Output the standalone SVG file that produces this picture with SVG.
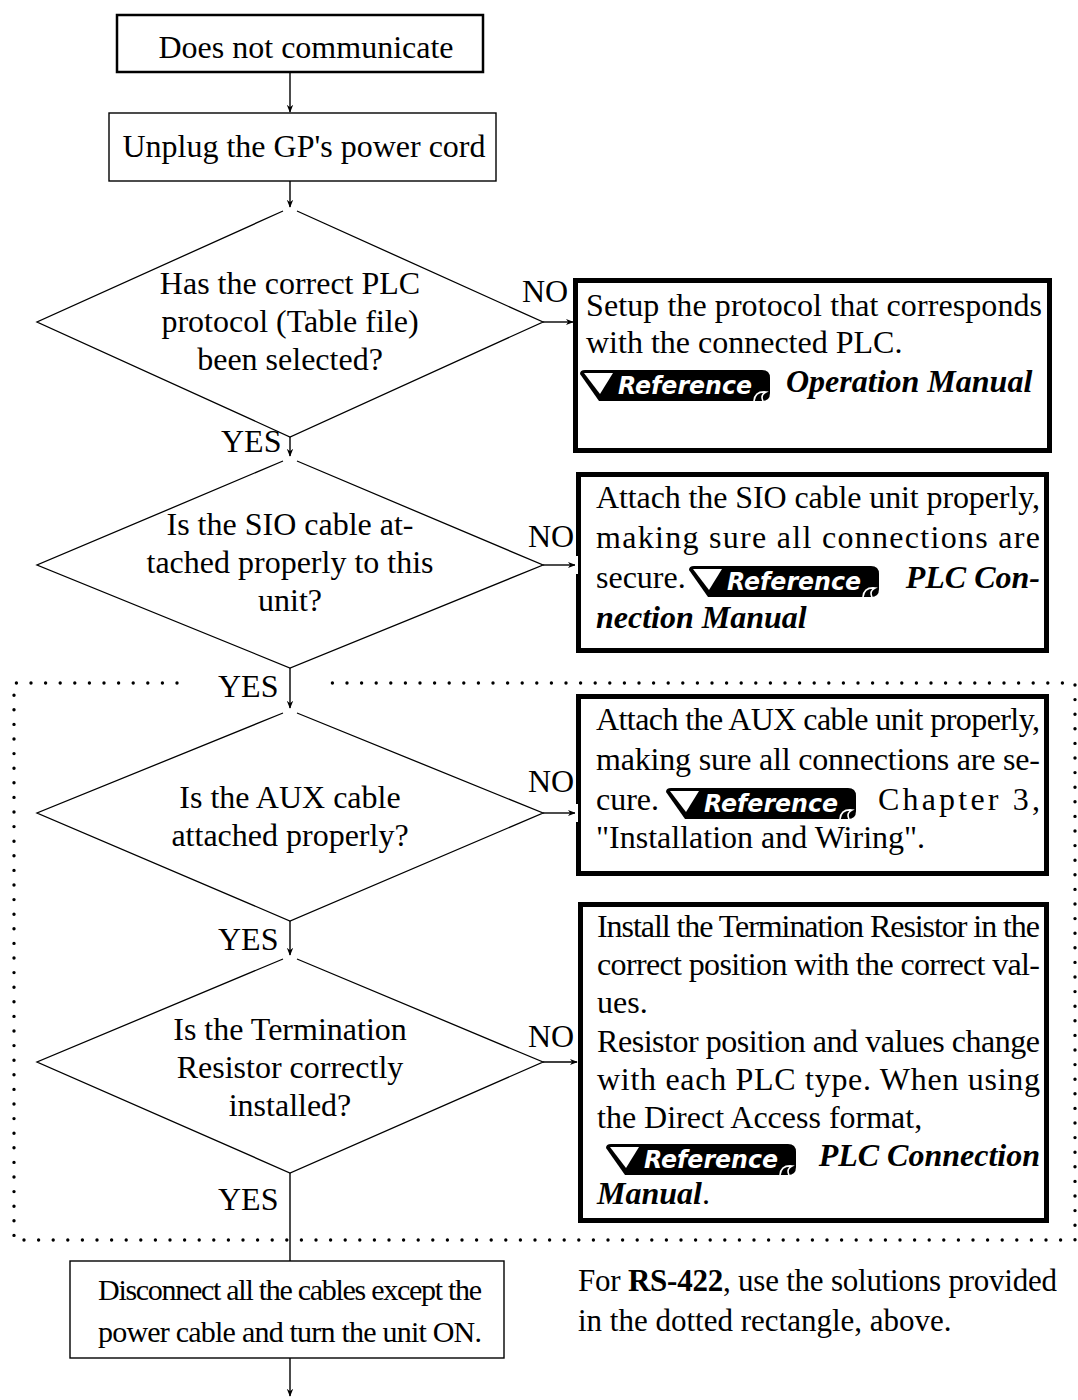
<svg xmlns="http://www.w3.org/2000/svg" xmlns:xlink="http://www.w3.org/1999/xlink" width="1078" height="1400" viewBox="0 0 1078 1400">
<style>
.t{font-family:"Liberation Serif","Times New Roman",serif;font-size:32px;fill:#000}
.c{text-anchor:middle}
.bi{font-weight:bold;font-style:italic}
.b{font-weight:bold}
.box{fill:#fff;stroke:#000}
.thin{stroke-width:1.4}
.thick{stroke-width:5}
.ln{fill:none;stroke:#000;stroke-width:1.4}
.dia{fill:none;stroke:#000;stroke-width:1.3}
.dots{fill:none;stroke:#000;stroke-width:3.4;stroke-linecap:round;stroke-dasharray:0 14.6}
.reft{font-family:"DejaVu Sans","Verdana",sans-serif;font-size:24px;font-weight:bold;font-style:italic;fill:#fff}
</style>
<defs>
<marker id="ah" viewBox="0 0 10 10" refX="9" refY="5" markerWidth="8" markerHeight="8" markerUnits="userSpaceOnUse" orient="auto">
<path d="M0,1 L10,5 L0,9 L3,5 Z" fill="#000"/>
</marker>
<symbol id="ref" viewBox="0 0 192 31">
<path d="M5,0 H182 Q190,0 190,8 V23 Q190,31 182,31 H19 L0,4 Q0,0 5,0 Z" fill="#000"/>
<path d="M4,3 H33 L20,24 Z" fill="#fff"/>
<text class="reft" x="38" y="24" textLength="134" lengthAdjust="spacingAndGlyphs">Reference</text>
<path d="M174,31 Q175,21 186,22 Q180,25 183,31" fill="none" stroke="#fff" stroke-width="1.6"/>
</symbol>
</defs>

<g id="dotted-region">
<path class="dots" d="M177,683 H14 V1240 H1075 V683 H324"/>
</g>

<g id="connectors">
<line class="ln" x1="290" y1="72" x2="290" y2="112" marker-end="url(#ah)"/>
<line class="ln" x1="290" y1="181" x2="290" y2="207" marker-end="url(#ah)"/>
<line class="ln" x1="290" y1="437" x2="290" y2="456" marker-end="url(#ah)"/>
<line class="ln" x1="290" y1="668" x2="290" y2="708" marker-end="url(#ah)"/>
<line class="ln" x1="290" y1="921" x2="290" y2="955" marker-end="url(#ah)"/>
<line class="ln" x1="290" y1="1173" x2="290" y2="1261"/>
<line class="ln" x1="290" y1="1358" x2="290" y2="1396" marker-end="url(#ah)"/>
<line class="ln" x1="543" y1="322" x2="573" y2="322" marker-end="url(#ah)"/>
<line class="ln" x1="543" y1="565" x2="575" y2="565" marker-end="url(#ah)"/>
<line class="ln" x1="543" y1="813" x2="575" y2="813" marker-end="url(#ah)"/>
<line class="ln" x1="543" y1="1062" x2="577" y2="1062" marker-end="url(#ah)"/>
<text class="t" x="221" y="452">YES</text>
<text class="t" x="218" y="697">YES</text>
<text class="t" x="218" y="950">YES</text>
<text class="t" x="218" y="1210">YES</text>
<text class="t" x="522" y="302">NO</text>
<text class="t" x="528" y="547">NO</text>
<text class="t" x="528" y="792">NO</text>
<text class="t" x="528" y="1047">NO</text>
</g>

<g id="start">
<rect class="box" x="117" y="15" width="366" height="57" stroke-width="2.5"/>
<text class="t c" x="306" y="58">Does not communicate</text>
</g>

<g id="unplug">
<rect class="box thin" x="109" y="113" width="387" height="68"/>
<text class="t c" x="304" y="157">Unplug the GP's power cord</text>
</g>

<g id="q-protocol">
<path class="dia" d="M283,211 L37,322 L290,437 L543,322 L297,211"/>
<text class="t c" x="290" y="294">Has the correct PLC</text>
<text class="t c" x="290" y="332">protocol (Table file)</text>
<text class="t c" x="290" y="370">been selected?</text>
</g>

<g id="fix-protocol">
<rect class="box thick" x="575.5" y="280.5" width="474" height="170"/>
<text class="t" x="586" y="316" textLength="456" lengthAdjust="spacing">Setup the protocol that corresponds</text>
<text class="t" x="586" y="353">with the connected PLC.</text>
<use xlink:href="#ref" href="#ref" x="580" y="370" width="192" height="31"/>
<text class="t bi" x="786" y="392">Operation Manual</text>
</g>

<g id="q-sio">
<path class="dia" d="M283,461 L37,565 L290,668 L543,565 L297,461"/>
<text class="t c" x="290" y="535">Is the SIO cable at-</text>
<text class="t c" x="290" y="573">tached properly to this</text>
<text class="t c" x="290" y="611">unit?</text>
</g>

<g id="fix-sio">
<rect class="box thick" x="578.5" y="474.5" width="468" height="176"/>
<rect x="575" y="556" width="3" height="18" fill="#fff"/>
<text class="t" x="596" y="508" textLength="444" lengthAdjust="spacing">Attach the SIO cable unit properly,</text>
<text class="t" x="596" y="548" textLength="444" lengthAdjust="spacing">making sure all connections are</text>
<text class="t" x="596" y="588">secure.</text>
<use xlink:href="#ref" href="#ref" x="689" y="566" width="192" height="31"/>
<text class="t bi" x="1040" y="588" text-anchor="end">PLC Con-</text>
<text class="t bi" x="596" y="628">nection Manual</text>
</g>

<g id="q-aux">
<path class="dia" d="M283,713 L37,813 L290,921 L543,813 L297,713"/>
<text class="t c" x="290" y="808">Is the AUX cable</text>
<text class="t c" x="290" y="846">attached properly?</text>
</g>

<g id="fix-aux">
<rect class="box thick" x="578.5" y="696.5" width="468" height="177"/>
<rect x="575" y="804" width="3" height="18" fill="#fff"/>
<text class="t" x="596" y="730" textLength="444" lengthAdjust="spacing">Attach the AUX cable unit properly,</text>
<text class="t" x="596" y="770" textLength="444" lengthAdjust="spacing">making sure all connections are se-</text>
<text class="t" x="596" y="810">cure.</text>
<use xlink:href="#ref" href="#ref" x="666" y="788" width="192" height="31"/>
<text class="t" x="878" y="810" textLength="162" lengthAdjust="spacing">Chapter 3,</text>
<text class="t" x="596" y="848">"Installation and Wiring".</text>
</g>

<g id="q-termination">
<path class="dia" d="M283,959 L37,1062 L290,1173 L543,1062 L297,959"/>
<text class="t c" x="290" y="1040">Is the Termination</text>
<text class="t c" x="290" y="1078">Resistor correctly</text>
<text class="t c" x="290" y="1116">installed?</text>
</g>

<g id="fix-termination">
<rect class="box thick" x="580.5" y="904.5" width="466" height="316"/>
<text class="t" x="597" y="937" textLength="443" lengthAdjust="spacing">Install the Termination Resistor in the</text>
<text class="t" x="597" y="975" textLength="443" lengthAdjust="spacing">correct position with the correct val-</text>
<text class="t" x="597" y="1013">ues.</text>
<text class="t" x="597" y="1052" textLength="443" lengthAdjust="spacing">Resistor position and values change</text>
<text class="t" x="597" y="1090" textLength="443" lengthAdjust="spacing">with each PLC type.  When using</text>
<text class="t" x="597" y="1128">the Direct Access format,</text>
<use xlink:href="#ref" href="#ref" x="606" y="1144" width="192" height="31"/>
<text class="t bi" x="1040" y="1166" text-anchor="end">PLC Connection</text>
<text class="t" x="597" y="1204"><tspan class="bi">Manual</tspan>.</text>
</g>

<g id="disconnect">
<rect class="box thin" x="70" y="1261" width="434" height="97"/>
<text class="t" x="98" y="1300" textLength="384" lengthAdjust="spacing" style="font-size:30px">Disconnect all the cables except the</text>
<text class="t" x="98" y="1342" textLength="384" lengthAdjust="spacing" style="font-size:30px">power cable and turn the unit ON.</text>
</g>

<g id="note">
<text class="t" x="578" y="1291" textLength="479" lengthAdjust="spacing" style="font-size:31px">For <tspan class="b">RS-422</tspan>, use the solutions provided</text>
<text class="t" x="578" y="1331" style="font-size:31px">in the dotted rectangle, above.</text>
</g>
</svg>
